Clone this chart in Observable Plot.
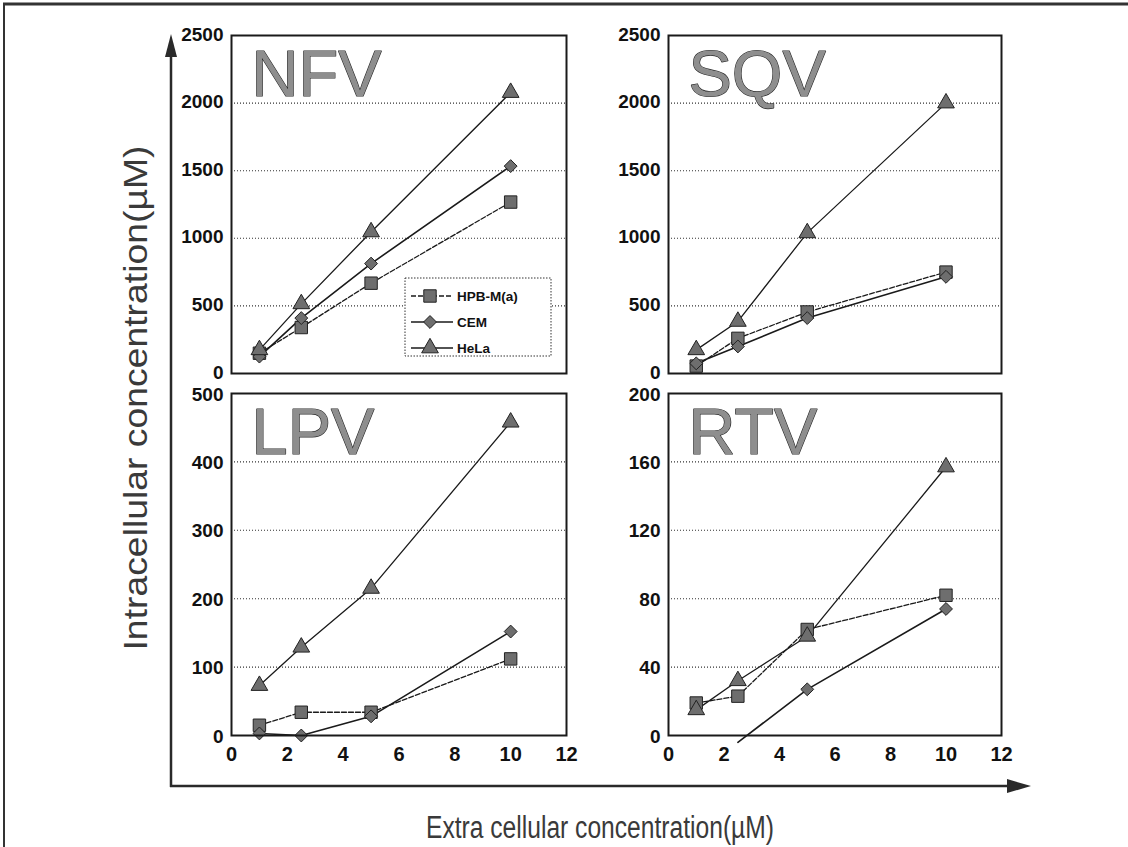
<!DOCTYPE html>
<html><head><meta charset="utf-8">
<script src="https://cdn.jsdelivr.net/npm/d3@7"></script>
<script src="https://cdn.jsdelivr.net/npm/@observablehq/plot@0.6"></script>
<style>
html,body{margin:0;background:#fff;overflow:hidden}
#wrap{position:relative;width:1128px;height:847px;overflow:hidden;background:#fff}
.p{position:absolute}
</style>
</head><body><div id="wrap"></div>
<script>
// ---- data ----
const xs = [1, 2.5, 5, 10];
const seriesNames = ["HPB-M(a)", "CEM", "HeLa"];
const panelNames = ["NFV", "SQV", "LPV", "RTV"];
const yMaxes = [2500, 2500, 500, 200];
const yTickSteps = [500, 500, 100, 40];
const xTicks = [0, 2, 4, 6, 8, 10, 12];

const NFV_HPB = [150, 340, 668, 1268];
const NFV_CEM = [125, 410, 813, 1534];
const NFV_HeLa = [175, 515, 1047, 2078];
const SQV_HPB = [55, 260, 455, 750];
const SQV_CEM = [75, 200, 410, 715];
const SQV_HeLa = [175, 385, 1040, 2000];
const LPV_HPB = [15, 34, 34, 112];
const LPV_CEM = [3, 0, 28, 152];
const LPV_HeLa = [73, 129, 215, 458];
const RTV_HPB = [19, 23, 62, 82];
const RTV_CEM = [null, -4, 27, 74];
const RTV_HeLa = [15, 32, 58, 157];

const values = {
  NFV: [NFV_HPB, NFV_CEM, NFV_HeLa],
  SQV: [SQV_HPB, SQV_CEM, SQV_HeLa],
  LPV: [LPV_HPB, LPV_CEM, LPV_HeLa],
  RTV: [RTV_HPB, RTV_CEM, RTV_HeLa]
};

// ---- styles ----
const symbols = ["square", "diamond2", "triangle"];
const d3symbols = [d3.symbolSquare, d3.symbolDiamond2, d3.symbolTriangle];
const radii = [7, 5.8, 6.2];
const dashes = ["5,2", null, null];
const lineWidths = [1.3, 1.6, 1.3];
const FONT = "'Liberation Sans', Arial, Helvetica, sans-serif";

// ---- layout ----
const frames = [
  {x0: 231, x1: 566, y0: 35, y1: 373, showX: false, tdy: -1},
  {x0: 668, x1: 1001, y0: 35, y1: 373, showX: false, tdy: -1},
  {x0: 231, x1: 566, y0: 393, y1: 735, showX: true, tdy: 1},
  {x0: 668, x1: 1001, y0: 393, y1: 735, showX: true, tdy: 1}
];
const ML = 70, MR = 12, MT = 15;

const wrap = document.getElementById("wrap");

panelNames.forEach((name, pi) => {
  const f = frames[pi];
  const MB = f.showX ? 45 : 12;
  const yMax = yMaxes[pi];
  const yTicks = d3.range(0, yMax + 1, yTickSteps[pi]);
  const grid = yTicks.filter(t => t > 0 && t < yMax);
  const rows = [];
  seriesNames.forEach((s, si) => {
    values[name][si].forEach((v, i) => {
      if (v != null) rows.push({series: s, si, x: xs[i], v});
    });
  });
  const marks = [
    Plot.ruleY(grid, {stroke: "#333", strokeWidth: 1.1, strokeDasharray: "1,2"})
  ];
  seriesNames.forEach((s, si) => {
    const d = rows.filter(r => r.si === si);
    marks.push(Plot.line(d, {x: "x", y: "v", stroke: "#1a1a1a", strokeWidth: lineWidths[si],
      strokeDasharray: dashes[si] || undefined}));
  });
  seriesNames.forEach((s, si) => {
    const d = rows.filter(r => r.si === si && r.v >= 0);
    marks.push(Plot.dot(d, {x: "x", y: "v", symbol: () => symbols[si], r: radii[si],
      fill: "#6e6e6e", stroke: "#222", strokeWidth: 1}));
  });
  marks.push(Plot.frame({stroke: "#1a1a1a", strokeWidth: 2}));
  marks.push(Plot.text([name], {text: d => d, frameAnchor: "top-left", textAnchor: "start",
    lineAnchor: "top", dx: 20, dy: 14, fontSize: 65, fontWeight: "normal", fontFamily: FONT,
    fill: "#8e8e8e", stroke: "#2a2a2a", strokeWidth: 1.2}));
  marks.push(Plot.axisY({ticks: yTicks, tickSize: 0, tickPadding: 8, fontSize: 19,
    fontWeight: "bold", label: null, dy: f.tdy, tickFormat: d => String(d)}));
  if (f.showX) marks.push(Plot.axisX({ticks: xTicks, tickSize: 0, tickPadding: 11,
    fontSize: 20, fontWeight: "bold", label: null, tickFormat: d => String(d)}));

  const chart = Plot.plot({
    width: ML + (f.x1 - f.x0) + MR,
    height: MT + (f.y1 - f.y0) + MB,
    marginLeft: ML, marginRight: MR, marginTop: MT, marginBottom: MB,
    x: {domain: [0, 12], label: null, ...(f.showX ? {} : {axis: null})},
    y: {domain: [0, yMax], label: null},
    symbol: {type: "identity"},
    style: {background: "transparent", overflow: "visible", fontFamily: FONT, color: "#111"},
    marks
  });
  chart.classList.add("p");
  chart.style.left = (f.x0 - ML) + "px";
  chart.style.top = (f.y0 - MT) + "px";
  wrap.appendChild(chart);
});

// ---- overlay: border, big arrows, titles, legend ----
const svg = d3.select(wrap).append("svg")
  .attr("class", "p").attr("width", 1128).attr("height", 847)
  .style("left", "0px").style("top", "0px").style("pointer-events", "none");

svg.append("line").attr("x1", 3).attr("x2", 1128).attr("y1", 4).attr("y2", 4)
  .attr("stroke", "#333").attr("stroke-width", 3);
svg.append("line").attr("x1", 4).attr("x2", 4).attr("y1", 3).attr("y2", 847)
  .attr("stroke", "#333").attr("stroke-width", 2);

// vertical arrow
svg.append("line").attr("x1", 171).attr("x2", 171).attr("y1", 787).attr("y2", 50)
  .attr("stroke", "#2a2a2a").attr("stroke-width", 2.5);
svg.append("polygon").attr("points", "171,34 165,57 177,57").attr("fill", "#2a2a2a");
// horizontal arrow
svg.append("line").attr("x1", 170).attr("x2", 1012).attr("y1", 786).attr("y2", 786)
  .attr("stroke", "#2a2a2a").attr("stroke-width", 2.5);
svg.append("polygon").attr("points", "1031,786 1007,779 1007,793").attr("fill", "#2a2a2a");

svg.append("text").attr("x", 600).attr("y", 838).attr("text-anchor", "middle")
  .attr("font-family", FONT).attr("font-size", 31).attr("fill", "#3a3a3a")
  .attr("textLength", 348).attr("lengthAdjust", "spacingAndGlyphs")
  .text("Extra cellular concentration(\u00b5M)");
svg.append("text").attr("transform", "translate(147,398) rotate(-90)").attr("text-anchor", "middle")
  .attr("font-family", FONT).attr("font-size", 34).attr("fill", "#3a3a3a")
  .attr("textLength", 505).attr("lengthAdjust", "spacingAndGlyphs")
  .text("Intracellular concentration(\u00b5M)");

// legend
const lg = svg.append("g");
lg.append("rect").attr("x", 405).attr("y", 278).attr("width", 146).attr("height", 78)
  .attr("fill", "#fff").attr("stroke", "#333").attr("stroke-width", 1).attr("stroke-dasharray", "1.5,1.5");
seriesNames.forEach((s, si) => {
  const y = 296 + si * 26;
  lg.append("line").attr("x1", 411).attr("x2", 453).attr("y1", y).attr("y2", y)
    .attr("stroke", "#1a1a1a").attr("stroke-width", lineWidths[si])
    .attr("stroke-dasharray", dashes[si] || null);
  lg.append("path").attr("transform", `translate(430,${y})`)
    .attr("d", d3.symbol(d3symbols[si], Math.PI * radii[si] * radii[si])())
    .attr("fill", "#6e6e6e").attr("stroke", "#222").attr("stroke-width", 1);
  lg.append("text").attr("x", 457).attr("y", y).attr("dy", "0.36em")
    .attr("font-family", FONT).attr("font-size", 13.5).attr("font-weight", "bold").attr("fill", "#111")
    .text(s);
});
</script></body></html>
